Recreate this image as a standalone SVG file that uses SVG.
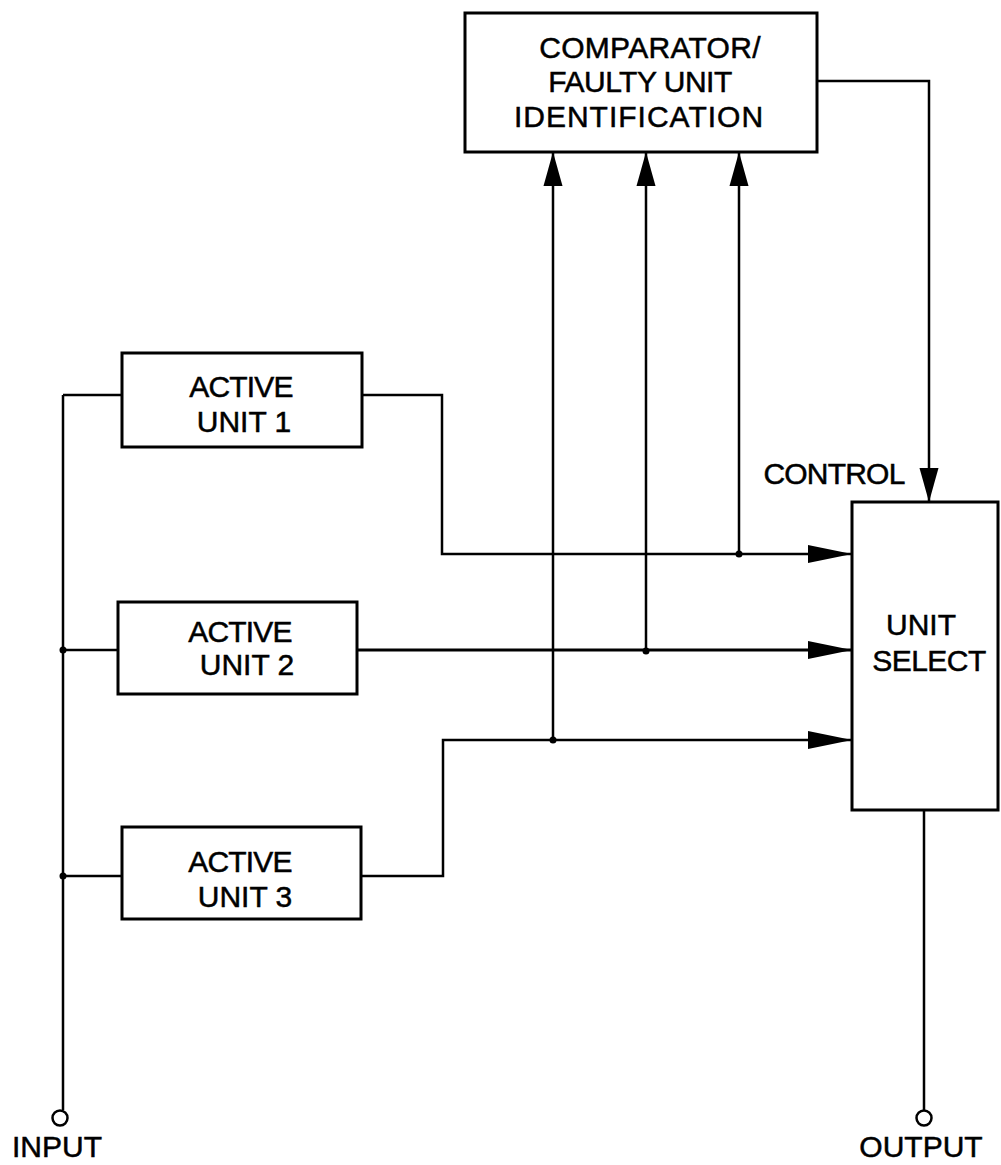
<svg xmlns="http://www.w3.org/2000/svg" width="1001" height="1165" viewBox="0 0 1001 1165">
<style>
.box{fill:#fff;stroke:#000;stroke-width:3}
.ln{fill:none;stroke:#000;stroke-width:2.5}
.t{font-family:"Liberation Sans",Arial,sans-serif;font-size:30px;fill:#000;stroke:#000;stroke-width:0.5;text-anchor:middle}
.dot{fill:#000}
</style>
<defs>
<marker id="ah" markerUnits="userSpaceOnUse" markerWidth="44" markerHeight="20" viewBox="0 0 44 20" refX="44" refY="10" orient="auto">
<polygon points="0,1 44,10 0,19" fill="#000"/>
</marker>
<marker id="av" markerUnits="userSpaceOnUse" markerWidth="34" markerHeight="20" viewBox="0 0 34 20" refX="34" refY="10" orient="auto">
<polygon points="0,0.5 34,10 0,19.5" fill="#000"/>
</marker>
</defs>
<g id="connectors">
<path class="ln" d="M63,395 V1110"/>
<path class="ln" d="M63,395 H122"/>
<path class="ln" d="M63,650 H118"/>
<path class="ln" d="M63,876 H122"/>
<path class="ln" d="M362,395 H442 V554 H852" marker-end="url(#ah)"/>
<path class="ln" d="M357,650 H852" style="stroke-width:3.2" marker-end="url(#ah)"/>
<path class="ln" d="M361,876 H443 V740 H852" marker-end="url(#ah)"/>
<path class="ln" d="M553,740 V152" marker-end="url(#av)"/>
<path class="ln" d="M646,651 V152" marker-end="url(#av)"/>
<path class="ln" d="M739,554 V152" marker-end="url(#av)"/>
<path class="ln" d="M817,81 H929 V502" marker-end="url(#av)"/>
<path class="ln" d="M924,810 V1110"/>
<circle class="dot" cx="63" cy="650" r="3.5"/>
<circle class="dot" cx="63" cy="876" r="3.5"/>
<circle class="dot" cx="739" cy="554" r="3.5"/>
<circle class="dot" cx="646" cy="651" r="3.5"/>
<circle class="dot" cx="553" cy="740" r="3.5"/>
</g>
<g id="comparator">
<rect class="box" x="465" y="13" width="352" height="139"/>
<text class="t" x="650" y="58" style="letter-spacing:0.3px">COMPARATOR/</text>
<text class="t" x="640" y="92" style="letter-spacing:-0.5px">FAULTY UNIT</text>
<text class="t" x="639" y="127" style="letter-spacing:1px">IDENTIFICATION</text>
</g>
<g id="unit1">
<rect class="box" x="122" y="353" width="240" height="94"/>
<text class="t" x="241" y="397" style="letter-spacing:-0.8px">ACTIVE</text>
<text class="t" x="244" y="432">UNIT 1</text>
</g>
<g id="unit2">
<rect class="box" x="118" y="602" width="239" height="92"/>
<text class="t" x="240" y="642" style="letter-spacing:-0.8px">ACTIVE</text>
<text class="t" x="247" y="675">UNIT 2</text>
</g>
<g id="unit3">
<rect class="box" x="122" y="827" width="239" height="92"/>
<text class="t" x="240" y="872" style="letter-spacing:-0.8px">ACTIVE</text>
<text class="t" x="245" y="907">UNIT 3</text>
</g>
<g id="unitselect">
<rect class="box" x="852" y="502" width="146" height="308"/>
<text class="t" x="921" y="635">UNIT</text>
<text class="t" x="929" y="671" style="letter-spacing:-0.5px">SELECT</text>
</g>
<g id="control">
<text class="t" x="834" y="484" style="letter-spacing:-0.8px">CONTROL</text>
</g>
<g id="input">
<circle cx="60" cy="1118" r="7.5" fill="#fff" stroke="#000" stroke-width="2.5"/>
<text class="t" x="57" y="1157">INPUT</text>
</g>
<g id="output">
<circle cx="924" cy="1118" r="7.5" fill="#fff" stroke="#000" stroke-width="2.5"/>
<text class="t" x="921" y="1157">OUTPUT</text>
</g>
</svg>
